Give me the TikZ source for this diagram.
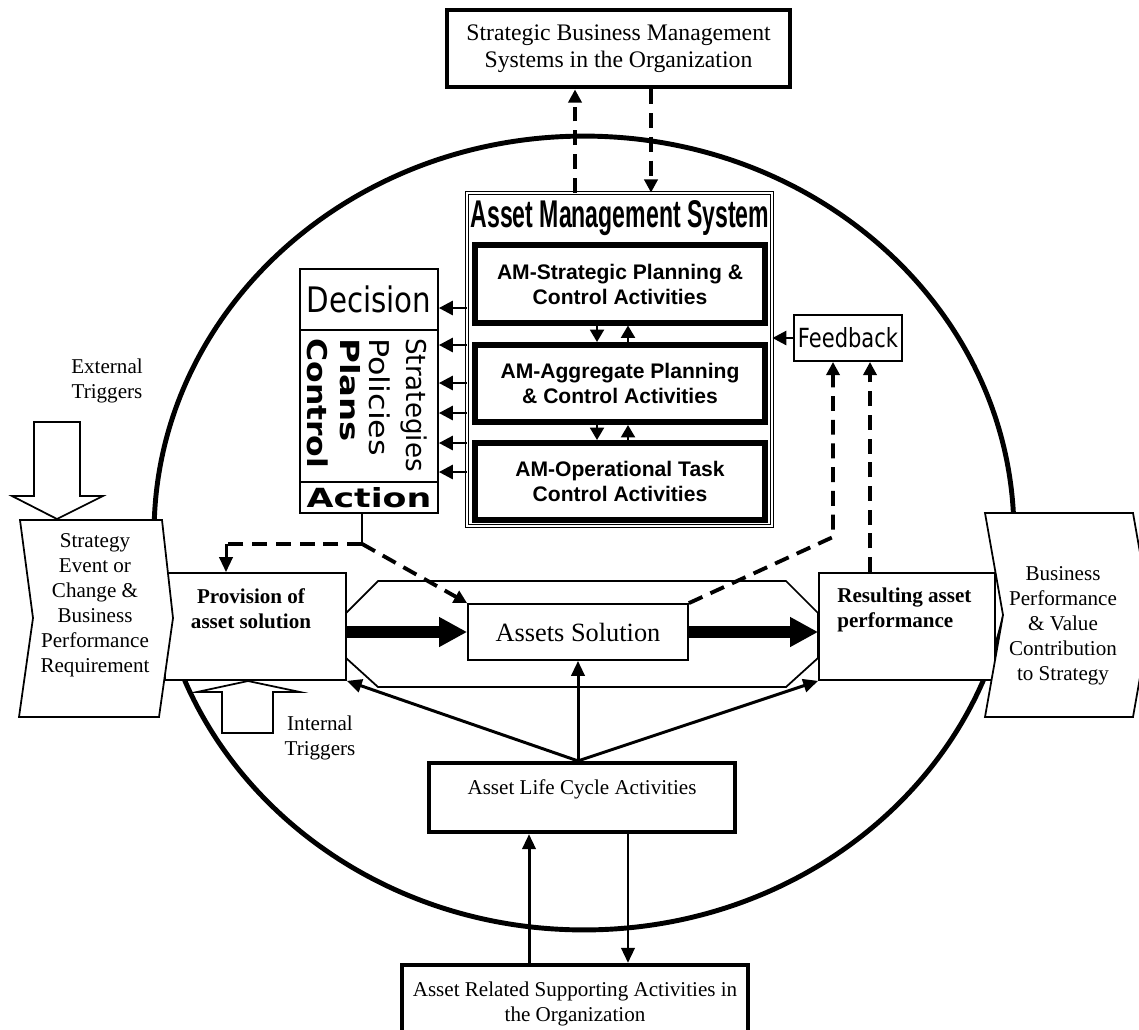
\documentclass[tikz,border=0pt]{standalone}
\usepackage{fontspec}
\setmainfont{Liberation Serif}
\newfontfamily\arialfont{Liberation Sans}
\newfontfamily\gsans{DejaVu Sans}
\usepackage{graphicx}
\usetikzlibrary{arrows.meta, calc}
\newcommand{\glow}[3]{\resizebox{#2}{\height}{#1#3}}

\begin{document}
\fontsize{12}{14.2}\selectfont
\begin{tikzpicture}[x=0.02cm, y=-0.02cm,
        thinbox/.style={draw, line width=1pt, fill=white, inner sep=0pt},
        thickbox/.style={draw, line width=2.4pt, fill=white, inner sep=0pt},
        ambox/.style={draw, line width=3.2pt, fill=white, inner sep=0pt, minimum width=5.8cm, minimum height=1.55cm, align=center, font=\arialfont\bfseries},
        hollow/.style={draw, line width=1pt, fill=white, line join=miter},
        conn/.style={line width=1.7pt, -{Triangle[length=8.5pt, width=7.5pt]}},
        medarr/.style={line width=1.6pt, -{Triangle[length=8pt, width=8pt]}},
        smallarr/.style={line width=1pt, -{Triangle[length=7pt, width=8pt]}},
        dashline/.style={line width=2.2pt, dash pattern=on 8.5pt off 5pt},
        dasharr/.style={dashline, -{Triangle[length=7.5pt, width=7.5pt]}},
        bigarr/.style={line width=6.5pt, -{Triangle[length=16pt, width=16pt]}}]
        \useasboundingbox (0,0) rectangle (1139,1029);

        \draw[line width=2.8pt] (584,533) ellipse [x radius=8.6cm, y radius=7.94cm];

        \draw[line width=1pt, fill=white] (378,581) -- (786,581) -- (818,613) -- (818,658) -- (786,687) -- (378,687) -- (346,658) -- (346,613) -- cycle;

        \node[thinbox, minimum width=3.62cm, minimum height=2.14cm] (prov) at (255.5,626.5) {};
        \node[font=\bfseries, align=center] (provtext) at (251,608.5) {Provision of\\asset solution};
        \node[thinbox, minimum width=3.52cm, minimum height=2.14cm] (res) at (907,626.5) {};
        \node[font=\bfseries, align=left, anchor=west] (restext) at (830,609.5) {Resulting asset\\performance};

        \draw[hollow] (20,520) -- (162,520) -- (173,618) -- (159,717) -- (19,717) -- (33,618) -- cycle;
        \node[align=center] (event) at (95,605) {Strategy\\Event or\\Change \&\\Business\\Performance\\Requirement};
        \draw[hollow] (985,513) -- (1133,513) -- (1151,615) -- (1133,717) -- (985,717) -- (1003,615) -- cycle;
        \node[align=center] (value) at (1063,626) {Business\\Performance\\\& Value\\Contribution\\to Strategy};

        \draw[hollow] (34,422) -- (80,422) -- (80,496) -- (103,496) -- (57,519) -- (12,496) -- (34,496) -- cycle;
        \node[align=center] (ext) at (107,381) {External\\Triggers};
        \draw[hollow] (222,733) -- (273,733) -- (273,692) -- (300,692) -- (248,681) -- (197,692) -- (222,692) -- cycle;
        \node[align=center] (int) at (320,738) {Internal\\Triggers};

        \node[thinbox, minimum width=4.4cm, minimum height=1.12cm, font=\fontsize{15}{18}\selectfont] (as) at (578,632) {Assets Solution};
        \draw[bigarr] (prov.east |- as.west) -- (as.west);
        \draw[bigarr] (as.east) -- (res.west |- as.east);

        \node[thickbox, minimum width=6.12cm, minimum height=1.38cm] (alc) at (582,797.5) {};
        \node (alctext) at (582,789) {Asset Life Cycle Activities};
        \coordinate (alctop) at (as.south |- alc.north);
        \foreach \t in {prov.south east, as.south, res.south west}
            \draw[conn] (alctop) -- (\t);

        \node[thickbox, minimum width=6.92cm, minimum height=1.56cm, align=center] (sup) at (575,1004) {Asset Related Supporting Activities in\\the Organization};
        \coordinate (supL) at ([xshift=-0.92cm]sup.north);
        \coordinate (supR) at ([xshift=1.06cm]sup.north);
        \draw[conn] (supL) -- (supL |- alc.south);
        \draw[conn] (supR |- alc.south) -- (supR);

        \node[thickbox, line width=2.8pt, minimum width=6.86cm, minimum height=1.54cm, align=center, font=\fontsize{13.5}{15.5}\selectfont] (sbms) at (618.5,48.5) {Strategic Business Management\\Systems in the Organization};

        \node[draw, double, double distance=1.3pt, line width=0.5pt, fill=white, minimum width=6.1cm, minimum height=6.66cm, inner sep=0pt] (ams) at (619.5,359.5) {};
        \node[inner sep=0pt] (amtitle) at (620,218) {\resizebox{170pt}{\height}{\arialfont\bfseries\fontsize{22}{22}\selectfont Asset Management System}};
        \node[ambox] (amstrat) at (620,284) {AM-Strategic Planning \&\\Control Activities};
        \node[ambox] (amagg) at (620,383.5) {AM-Aggregate Planning\\\& Control Activities};
        \node[ambox] (amop) at (620,481.5) {AM-Operational Task\\Control Activities};

        \foreach \a/\b in {amstrat/amagg, amagg/amop} {
            \draw[smallarr] ([xshift=-0.46cm]\a.south) -- ([xshift=-0.46cm]\b.north);
            \draw[smallarr] ([xshift=0.16cm]\b.north) -- ([xshift=0.16cm]\a.south);
        }

        \coordinate (amL) at ([xshift=-0.89cm]ams.north);
        \coordinate (amR) at ([xshift=0.63cm]ams.north);
        \draw[dasharr] (amL) -- (amL |- sbms.south);
        \draw[dasharr] (amR |- sbms.south) -- (amR);

        \node[thinbox, minimum width=2.76cm, minimum height=1.22cm] (dec) at (369,299.5) {\glow{\gsans\fontsize{20}{20}\selectfont}{71pt}{Decision}};
        \node[thinbox, minimum width=2.76cm, minimum height=3.04cm] (pol) at (369,406) {};
        \node[thinbox, minimum width=2.76cm, minimum height=0.62cm] (act) at (369,497.5) {\glow{\gsans\bfseries\fontsize{15}{15}\selectfont}{71pt}{Action}};
        \foreach \x/\w/\f/\s/\word in {414/76pt/{}/15.5/Strategies, 380/67pt/{}/15.5/Policies, 350/59pt/\bfseries/15/Plans, 318/74pt/\bfseries/15.5/Control}
            \node[rotate=-90, anchor=west, inner sep=0pt] (\word) at (\x,338) {\glow{\gsans\f\fontsize{\s}{\s}\selectfont}{\w}{\word}};

        \foreach \y in {308,345,383,413,443,472} {
            \coordinate (d\y) at (0,\y);
            \draw[medarr] (ams.west |- d\y) -- (pol.east |- d\y);
        }

        \node[thinbox, line width=1.1pt, minimum width=2.16cm, minimum height=0.92cm] (fb) at (848,338) {\glow{\gsans\fontsize{15}{15}\selectfont}{57pt}{Feedback}};
        \draw[medarr] (fb.west) -- (ams.east |- fb.west);
        \coordinate (fbL) at ([xshift=-0.3cm]fb.south);
        \coordinate (fbR) at ([xshift=0.44cm]fb.south);
        \coordinate (fbbend) at (833,537);
        \draw[dasharr] (as.north east) -- (fbL |- fbbend) -- (fbL);
        \draw[dasharr] (fbR |- res.north) -- (fbR);

        \coordinate (actk) at ([xshift=-0.14cm]act.south);
        \coordinate (actbend) at ([yshift=-0.6cm]actk);
        \coordinate (provL) at ([xshift=-0.59cm]prov.north);
        \draw[line width=1.7pt] (actk) -- (actbend);
        \draw[dashline] (actbend) -- (actbend -| provL);
        \draw[conn] (actbend -| provL) -- (provL);
        \draw[dasharr] (actbend) -- (as.north west);
\end{tikzpicture}
\end{document}
